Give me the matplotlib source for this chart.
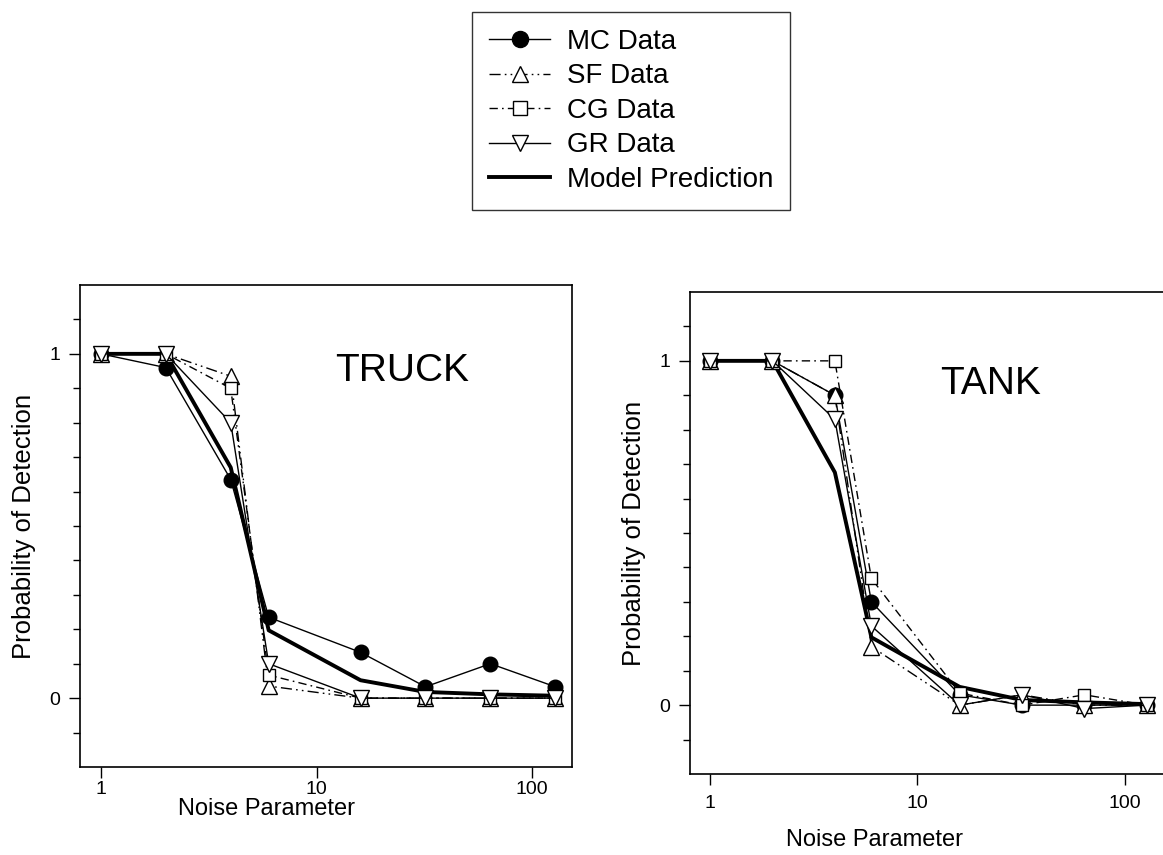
import numpy as np
import matplotlib
matplotlib.use("Agg")
import matplotlib.pyplot as plt
from matplotlib.ticker import FixedLocator, NullFormatter, NullLocator

plt.rcParams['font.family'] = ['Liberation Sans', 'DejaVu Sans']

noise = [1, 2, 4, 6, 16, 32, 64, 128]

# TRUCK panel
truck_mc = [1.0, 0.96, 0.635, 0.235, 0.133, 0.033, 0.10, 0.033]
truck_sf = [1.0, 1.0, 0.935, 0.035, 0.0, 0.0, 0.0, 0.0]
truck_cg = [1.0, 1.0, 0.90, 0.067, 0.0, 0.0, 0.0, 0.0]
truck_gr = [1.0, 1.0, 0.80, 0.10, 0.0, 0.0, 0.0, 0.0]
truck_model = [1.0, 1.0, 0.67, 0.197, 0.052, 0.018, 0.011, 0.007]

# TANK panel
tank_mc = [1.0, 1.0, 0.90, 0.30, 0.03, 0.0, 0.0, 0.0]
tank_sf = [1.0, 1.0, 0.90, 0.17, 0.0, 0.03, 0.0, 0.0]
tank_cg = [1.0, 1.0, 1.0, 0.368, 0.035, 0.0, 0.03, 0.0]
tank_gr = [1.0, 1.0, 0.83, 0.23, 0.0, 0.03, -0.01, 0.0]
tank_model = [1.0, 1.0, 0.676, 0.197, 0.053, 0.015, 0.008, 0.003]

labels = ["MC Data", "SF Data", "CG Data", "GR Data", "Model Prediction"]
x_ticks = [1, 10, 100]
x_tick_labels = ["1", "10", "100"]

dashdotdot = (0, (8, 3, 1.2, 3, 1.2, 3))
dashdot = (0, (6, 3, 1.2, 3))

W, H = 1163, 855
fig = plt.figure(figsize=(W / 100, H / 100), dpi=100)
ax1 = fig.add_axes([80 / W, 1 - 767 / H, 492 / W, 482 / H])
ax2 = fig.add_axes([690 / W, 1 - 774 / H, 485 / W, 482 / H])


def draw(ax, mc, sf, cg, gr, model, title, title_xy, xmax, xpad, xlab_y):
    h_mc, = ax.plot(noise, mc, color="black", lw=1.0, marker="o", ms=10.5,
                    mfc="black", mec="black", zorder=3.5)
    h_sf, = ax.plot(noise, sf, color="black", lw=1.0, ls=dashdotdot, marker="^",
                    ms=11, mfc="white", mec="black", mew=1.0, zorder=4)
    h_cg, = ax.plot(noise, cg, color="black", lw=1.0, ls=dashdot, marker="s",
                    ms=9, mfc="white", mec="black", mew=1.0, zorder=4)
    h_gr, = ax.plot(noise, gr, color="black", lw=1.0, marker="v",
                    ms=11, mfc="white", mec="black", mew=1.0, zorder=4)
    h_mod, = ax.plot(noise, model, color="black", lw=2.8, zorder=3)

    ax.set_xscale("log")
    ax.set_xlim(0.8, xmax)
    ax.set_ylim(-0.2, 1.2)
    ax.xaxis.set_major_locator(FixedLocator(x_ticks))
    ax.set_xticklabels(x_tick_labels)
    ax.xaxis.set_minor_locator(NullLocator())
    ax.xaxis.set_minor_formatter(NullFormatter())
    ax.yaxis.set_major_locator(FixedLocator([0, 1]))
    ax.set_yticklabels(["0", "1"])
    ax.yaxis.set_minor_locator(FixedLocator(np.round(np.arange(-0.1, 1.15, 0.1), 2)))
    ax.tick_params(which="major", direction="out", length=8, width=1,
                   labelsize=14)
    ax.tick_params(axis="x", which="major", pad=xpad)
    ax.tick_params(axis="y", which="major", pad=6)
    ax.tick_params(which="minor", direction="out", length=5, width=1)
    for s in ax.spines.values():
        s.set_linewidth(1.2)
    ax.set_xlabel("Noise Parameter", fontsize=17)
    ax.xaxis.set_label_coords(0.38, xlab_y)
    ax.set_ylabel("Probability of Detection", fontsize=18.5)
    ax.yaxis.set_label_coords(-0.09, 0.5)
    ax.text(title_xy[0], title_xy[1], title, transform=ax.transAxes,
            fontsize=28, ha="center", va="center")
    return [h_mc, h_sf, h_cg, h_gr, h_mod]


handles = draw(ax1, truck_mc, truck_sf, truck_cg, truck_gr, truck_model,
               "TRUCK", ((402 - 80) / 492, (767 - 371) / 482), 153,
               2, -0.064)
draw(ax2, tank_mc, tank_sf, tank_cg, tank_gr, tank_model,
     "TANK", ((991 - 690) / 485, (774 - 384) / 482), 175,
     7, -0.114)

leg = fig.legend(handles, labels, loc="upper left",
                 bbox_to_anchor=(472 / W, 1 - 12 / H),
                 fontsize=20, frameon=True, fancybox=False, shadow=False,
                 handlelength=2.22, handletextpad=0.6, labelspacing=0.31,
                 borderpad=0.6, borderaxespad=0, markerscale=1.1)
leg.get_frame().set_edgecolor("black")
leg.get_frame().set_linewidth(1.0)

fig.savefig("out.png", dpi=100)
